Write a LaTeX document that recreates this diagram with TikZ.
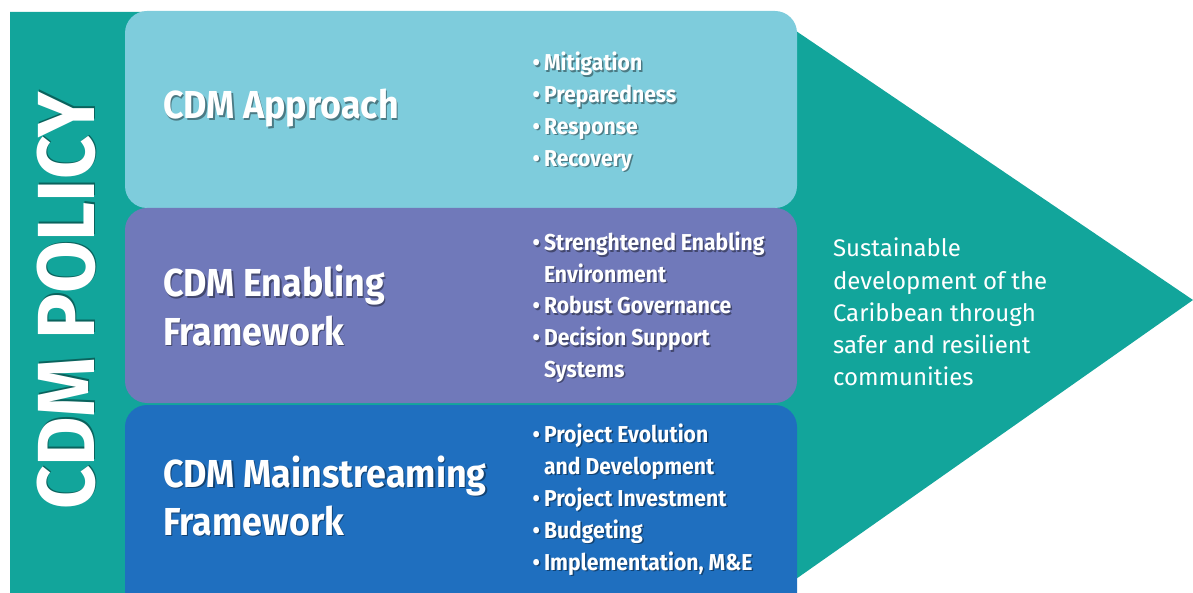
\documentclass[tikz,border=0pt]{standalone}
\usepackage{fontspec}
\setmainfont{Fira Sans}
\newfontfamily\condfont{Fira Sans}[FakeStretch=0.92]
\newfontfamily\policyfont{Fira Sans}[FakeStretch=0.94]

\definecolor{policyteal}{HTML}{12A59B}
\definecolor{approachblue}{HTML}{7ECCDC}
\definecolor{enablingpurple}{HTML}{7079BA}
\definecolor{mainblue}{HTML}{1F6FBF}

% white lettering, each with a soft cast shadow
\newcommand{\bul}{\llap{\textbullet\kern4pt}}
\newcommand{\castnode}[4]{%
  \node[#1,text=black,text opacity=0.4,xshift=1.5pt,yshift=-1.5pt] at (#3) {#4};
  \node[#1] (#2) at (#3) {#4};}

\begin{document}
\begin{tikzpicture}[x=1pt,y=-1pt,inner sep=0pt,outer sep=0pt,
title/.style={text=white,anchor=base west,font=\condfont\bfseries\fontsize{39}{44}\selectfont},
item/.style={text=white,anchor=base west,font=\condfont\bfseries\fontsize{23}{26}\selectfont},
goal/.style={text=white,anchor=base west,font=\fontsize{24}{26}\selectfont},
panel/.style={rounded corners=22pt}]
\useasboundingbox (0,0) rectangle (1193,593);
\clip (0,0) rectangle (1193,593);

% policy arrow
\fill[policyteal] (10,12) -- (768,12) -- (1193,300) -- (776,593) -- (10,593) -- cycle;
\castnode{text=white,rotate=90,font=\policyfont\bfseries\fontsize{81}{81}\selectfont}{policy}{66,301}{CDM POLICY}

% the three layers
\fill[approachblue,panel] (125,11) rectangle (797,208);
\fill[enablingpurple,panel] (125,208) rectangle (797,403);
\fill[mainblue,panel] (125,405) rectangle (797,640);

\castnode{title}{approach}{163,119}{CDM Approach}
\castnode{title}{enabling}{163,297}{CDM Enabling}
\castnode{title}{enablingfw}{163,345}{Framework}
\castnode{title}{mainstream}{163,487}{CDM Mainstreaming}
\castnode{title}{mainstreamfw}{163,535}{Framework}

\foreach \line [count=\i from 0] in {\bul Mitigation, \bul Preparedness, \bul Response, \bul Recovery}
  {\castnode{item}{app\i}{544,71+31.7*\i}{\line}}
\foreach \line [count=\i from 0] in {\bul Strenghtened Enabling, Environment, \bul Robust Governance,
  \bul Decision Support, Systems}
  {\castnode{item}{ena\i}{544,251+31.5*\i}{\line}}
\foreach \line [count=\i from 0] in {\bul Project Evolution, and Development, \bul Project Investment,
  \bul Budgeting, {\bul Implementation, M\&E}}
  {\castnode{item}{main\i}{544,442+32*\i}{\line}}

% outcome
\foreach \line [count=\i from 0] in {Sustainable, development of the, Caribbean through,
  safer and resilient, communities}
  \node[goal] (goal\i) at (833,257+32.2*\i) {\line};
\end{tikzpicture}
\end{document}
